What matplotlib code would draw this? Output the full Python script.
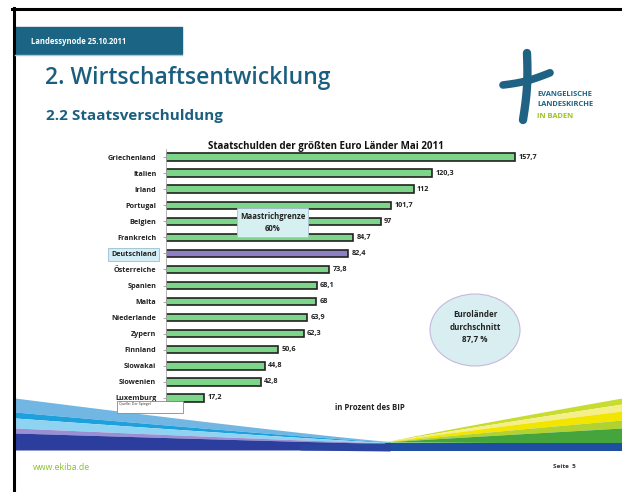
import numpy as np
import matplotlib
matplotlib.use("Agg")
import matplotlib.pyplot as plt
from matplotlib.patches import Rectangle, Ellipse

plt.rcParams['font.family'] = ['Open Sans', 'DejaVu Sans']

# data
countries = ["Griechenland", "Italien", "Irland", "Portugal", "Belgien", "Frankreich",
             "Deutschland", "Österreiche", "Spanien", "Malta", "Niederlande", "Zypern",
             "Finnland", "Slowakai", "Slowenien", "Luxemburg"]
debt = [157.7, 120.3, 112, 101.7, 97, 84.7, 82.4, 73.8, 68.1, 68, 63.9, 62.3,
        50.6, 44.8, 42.8, 17.2]
highlight = "Deutschland"

teal = "#1b5f80"
green_bar = "#7dd58a"
purple_bar = "#8c7fc4"

W, H = 622, 492
fig = plt.figure(figsize=(W / 100, H / 100), dpi=100)

# background / slide decoration, pixel coordinates
bg = fig.add_axes([0, 0, 1, 1], zorder=0)
bg.set_xlim(0, W)
bg.set_ylim(H, 0)
bg.axis("off")

# frame lines
bg.plot([12, W], [8.5, 8.5], color="black", lw=2.2)
bg.plot([13.5, 13.5], [8, H], color="black", lw=2.2)

# header band
bg.add_patch(Rectangle((15, 27), 167, 27, color="#1b6484"))
bg.plot([15, 182], [55, 55], color="#a8c8d8", lw=1)
bg.text(31, 41, "Landessynode 25.10.2011", color="white", fontsize=5.5,
        va="center", fontweight="bold")
bg.text(45, 78, "2. Wirtschaftsentwicklung", color=teal, fontsize=16.5,
        fontweight="semibold", va="center")
bg.text(46, 116, "2.2 Staatsverschuldung", color=teal, fontsize=11,
        fontweight="bold", va="center")

# logo
yy = np.linspace(53, 120, 30)
bg.plot(527 + 2 * np.sin((yy - 53) / 67 * np.pi) - 4 * (yy - 53) / 67, yy,
        color="#1f6283", lw=6, solid_capstyle="round")
xx = np.linspace(503, 550, 30)
bg.plot(xx, 85 - (xx - 503) * 0.26 + 2 * np.sin((xx - 503) / 47 * np.pi), color="#1f6283",
        lw=5.5, solid_capstyle="round")
bg.text(537, 94, "EVANGELISCHE", color="#1f6283", fontsize=5.4, fontweight="bold", va="center")
bg.text(537, 105, "LANDESKIRCHE", color="#1f6283", fontsize=5.4, fontweight="bold", va="center")
bg.text(537, 116, "IN BADEN", color="#9cc21e", fontsize=5.4, fontweight="bold", va="center")

# bottom waves
def band_curve(x, y_start, y_end, x0, x1):
    t = np.clip((x - x0) / (x1 - x0), 0, 1)
    return y_start + (y_end - y_start) * (1 - (1 - t) ** 1.1)

xl = np.linspace(15, 390, 120)
left_top = [398, 412, 418, 428, 433, 450]
left_end = [441.5, 442, 442.5, 443, 443.5, 450]
left_cols = ["#72b6e4", "#1ea0dc", "#8fd3f3", "#9a8fd2", "#2b3d9d"]
for i, c in enumerate(left_cols):
    bg.fill_between(xl, band_curve(xl, left_top[i], left_end[i], 15, 390),
                    band_curve(xl, left_top[i + 1], left_end[i + 1], 15, 390),
                    color=c, lw=0)

xr = np.linspace(385, W, 120)
right_top = [398, 404, 411, 420, 428, 443]
right_cols = ["#c7dc2c", "#f4ef8a", "#f2e500", "#b2d232", "#45a53d"]
for i, c in enumerate(right_cols):
    y0 = 442 + (right_top[i] - 442) * ((xr - 385) / (W - 385)) ** 0.95
    y1 = 442 + (right_top[i + 1] - 442) * ((xr - 385) / (W - 385)) ** 0.95
    bg.fill_between(xr, y0, y1, color=c, lw=0)
bg.fill_between(np.array([385, W]), [443, 443], [451, 451], color="#1f4fa0", lw=0)
bg.fill_between(np.array([300, 390]), [444, 443], [450, 451], color="#2a45a0", lw=0)

bg.text(33, 467, "www.ekiba.de", color="#8cbf2c", fontsize=6.3, va="center")
bg.text(553, 467, "Seite  5", color="#333333", fontsize=4.6, va="center", fontweight="bold")

# chart
ax = fig.add_axes([166 / W, 1 - 406 / H, 376 / W, 257 / H], zorder=1)
ax.patch.set_alpha(0)
ypos = np.arange(len(countries))
colors = [purple_bar if c == highlight else green_bar for c in countries]
ax.barh(ypos, debt, height=0.46, color=colors, edgecolor="#222222", linewidth=1.2)
ax.set_xlim(0, 170)
ax.set_ylim(len(countries) - 0.5, -0.5)
for y, v in zip(ypos, debt):
    ax.text(v + 1.5, y, f"{v:g}".replace(".", ","), fontsize=5.2, va="center",
            color="#222222", fontweight="bold")
ax.set_yticks(ypos)
ax.set_yticklabels(countries, fontsize=5.2, fontweight="bold", color="#222222")
ax.tick_params(axis="y", length=2, width=0.6, color="#999999", pad=5)
ax.set_xticks([])
for s in ["top", "right", "bottom"]:
    ax.spines[s].set_visible(False)
ax.spines["left"].set_color("#aaaaaa")
ax.spines["left"].set_linewidth(0.6)
for lbl in ax.get_yticklabels():
    if lbl.get_text() == highlight:
        lbl.set_bbox(dict(boxstyle="square,pad=0.4", facecolor="#d3eef6",
                          edgecolor="#9bbfd0", linewidth=0.6))

fig.text(326 / W, 1 - 146 / H, "Staatschulden der größten Euro Länder Mai 2011",
         fontsize=7, fontweight="bold", ha="center", va="center", color="#111111")

# overlay annotations
fg = fig.add_axes([0, 0, 1, 1], zorder=2)
fg.set_xlim(0, W)
fg.set_ylim(H, 0)
fg.axis("off")
fg.add_patch(Rectangle((237, 208), 71, 29, facecolor="#d6f0f1", edgecolor="#a9c3d3", lw=0.6))
fg.text(272.5, 222.5, "Maastrichgrenze\n60%", fontsize=5.6, fontweight="bold",
        ha="center", va="center", color="#222222", linespacing=1.5)
fg.add_patch(Ellipse((475, 330), 90, 72, facecolor="#d8eef1", edgecolor="#c7b8dc", lw=0.8))
fg.text(475, 327, "Euroländer\ndurchschnitt\n87,7 %", fontsize=5.8, fontweight="bold",
        ha="center", va="center", color="#222222", linespacing=1.5)
fg.text(370, 407, "in Prozent des BIP", fontsize=5.6, fontweight="bold",
        ha="center", va="center", color="#222222")
fg.add_patch(Rectangle((117, 401), 66, 12, facecolor="white", edgecolor="#888888", lw=0.6))
fg.text(119, 404.5, "Quelle: Der Spiegel", fontsize=2.6, va="center", color="#333333")

fig.savefig("out.png", dpi=100)
